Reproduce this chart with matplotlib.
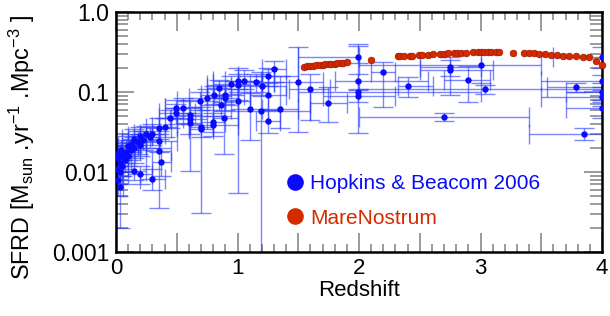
import matplotlib
matplotlib.use("Agg")
import matplotlib.pyplot as plt
import numpy as np
from matplotlib.ticker import MultipleLocator, FixedLocator, FuncFormatter, LogLocator, NullFormatter
from matplotlib.lines import Line2D

plt.rcParams['font.family'] = ['Liberation Sans', 'DejaVu Sans']
plt.rcParams['mathtext.fontset'] = 'custom'
plt.rcParams['mathtext.rm'] = 'Liberation Sans'
plt.rcParams['mathtext.it'] = 'Liberation Sans:italic'
plt.rcParams['mathtext.default'] = 'regular'

# ---- Hopkins & Beacom 2006 compilation (z, SFRD, z range, SFRD range) ----
hb_z = [4.00, 4.00, 4.00, 4.00, 4.00, 3.85, 3.79, 3.04, 3.00, 2.90, 2.75, 2.75, 2.70, 2.40, 2.20,
        1.99, 1.99, 1.99, 1.99, 1.745, 1.60, 1.50, 1.35, 1.30, 1.25, 1.25, 1.25, 1.20, 1.195, 1.15,
        1.10, 1.05, 1.00, 1.00, 1.00, 0.945, 0.90, 0.90, 0.89, 0.866, 0.845, 0.81, 0.795, 0.795, 0.75,
        0.70, 0.70, 0.69, 0.61, 0.61, 0.61, 0.55, 0.495, 0.495, 0.445, 0.40, 0.35, 0.35, 0.35, 0.37,
        0.30, 0.20, 0.15,
        0.30, 0.28, 0.25, 0.22, 0.20, 0.20, 0.18, 0.15, 0.15, 0.13, 0.12, 0.10, 0.10, 0.08, 0.07,
        0.05, 0.05, 0.04, 0.03, 0.03, 0.02, 0.02, 0.01, 0.01, 0.03]
hb_sfrd = [0.270, 0.138, 0.100, 0.087, 0.064, 0.030, 0.115, 0.109, 0.218, 0.143, 0.207, 0.188, 0.049, 0.120, 0.180,
           0.270, 0.138, 0.100, 0.089, 0.072, 0.109, 0.132, 0.062, 0.192, 0.160, 0.093, 0.044, 0.119, 0.058, 0.132,
           0.061, 0.138, 0.138, 0.122, 0.078, 0.126, 0.092, 0.085, 0.048, 0.069, 0.111, 0.092, 0.042, 0.039, 0.083,
           0.037, 0.034, 0.078, 0.052, 0.046, 0.041, 0.064, 0.064, 0.055, 0.047, 0.036, 0.035, 0.0245, 0.0185, 0.0135,
           0.0082, 0.0094, 0.0104,
           0.030, 0.027, 0.030, 0.025, 0.028, 0.022, 0.024, 0.026, 0.020, 0.023, 0.019, 0.021, 0.016, 0.018, 0.014,
           0.016, 0.012, 0.019, 0.013, 0.010, 0.015, 0.008, 0.011, 0.017, 0.0065]
hb_z_lo = [3.60, 3.50, 3.70, 3.50, 3.70, 3.40, 3.55, 2.00, 2.00, 2.70, 2.50, 2.50, 2.00, 2.32, 2.10,
           1.50, 1.80, 1.50, 1.70, 1.60, 1.42, 1.30, 1.20, 1.20, 1.00, 1.10, 1.15, 1.00, 0.80, 1.00,
           0.95, 0.90, 0.80, 0.75, 0.90, 0.80, 0.75, 0.80, 0.80, 0.70, 0.75, 0.70, 0.70, 0.60, 0.60,
           0.60, 0.60, 0.50, 0.50, 0.45, 0.50, 0.40, 0.40, 0.35, 0.35, 0.30, 0.25, 0.20, 0.25, 0.30,
           0.20, 0.10, 0.05,
           0.20, 0.20, 0.15, 0.10, 0.10, 0.15, 0.10, 0.05, 0.10, 0.05, 0.05, 0.02, 0.05, 0.00, 0.02,
           0.00, 0.00, 0.00, 0.00, 0.00, 0.00, 0.00, 0.00, 0.00, 0.00]
hb_z_hi = [4.40, 4.50, 4.30, 4.50, 4.30, 4.30, 4.00, 4.00, 3.50, 3.08, 3.00, 3.10, 3.40, 2.61, 2.30,
           2.00, 2.57, 3.00, 2.30, 1.90, 1.76, 1.70, 1.50, 1.40, 1.50, 1.40, 1.35, 1.40, 1.60, 1.30,
           1.25, 1.20, 1.20, 1.25, 1.10, 1.10, 1.05, 1.00, 1.00, 1.00, 0.95, 0.90, 0.90, 1.00, 0.90,
           0.80, 0.80, 0.85, 0.70, 0.75, 0.70, 0.70, 0.60, 0.65, 0.55, 0.50, 0.45, 0.50, 0.45, 0.45,
           0.40, 0.30, 0.25,
           0.40, 0.36, 0.35, 0.35, 0.30, 0.25, 0.25, 0.25, 0.20, 0.20, 0.20, 0.18, 0.15, 0.16, 0.12,
           0.10, 0.10, 0.08, 0.06, 0.06, 0.05, 0.05, 0.03, 0.03, 0.06]
hb_sfrd_lo = [0.20, 0.115, 0.075, 0.066, 0.048, 0.025, 0.099, 0.095, 0.13, 0.075, 0.16, 0.092, 0.043, 0.087, 0.065,
              0.23, 0.11, 0.031, 0.075, 0.042, 0.045, 0.032, 0.035, 0.134, 0.12, 0.06, 0.031, 0.09, 0.0008, 0.10,
              0.025, 0.11, 0.10, 0.08, 0.0054, 0.095, 0.07, 0.06, 0.0167, 0.05, 0.085, 0.07, 0.032, 0.028, 0.06,
              0.027, 0.0031, 0.06, 0.04, 0.0103, 0.03, 0.048, 0.05, 0.04, 0.035, 0.027, 0.026, 0.018, 0.0035, 0.009,
              0.006, 0.007, 0.008,
              0.022, 0.020, 0.024, 0.019, 0.020, 0.016, 0.017, 0.020, 0.015, 0.018, 0.014, 0.016, 0.012, 0.013, 0.010,
              0.011, 0.009, 0.014, 0.009, 0.007, 0.010, 0.005, 0.007, 0.012, 0.002]
hb_sfrd_hi = [0.36, 0.165, 0.13, 0.105, 0.08, 0.035, 0.130, 0.122, 0.33, 0.21, 0.27, 0.25, 0.055, 0.155, 0.24,
              0.375, 0.17, 0.40, 0.105, 0.114, 0.17, 0.37, 0.16, 0.246, 0.20, 0.13, 0.06, 0.16, 0.18, 0.17,
              0.097, 0.19, 0.20, 0.17, 0.11, 0.16, 0.12, 0.11, 0.075, 0.09, 0.14, 0.12, 0.055, 0.05, 0.11,
              0.05, 0.065, 0.10, 0.065, 0.08, 0.055, 0.085, 0.08, 0.07, 0.06, 0.048, 0.047, 0.033, 0.03, 0.02,
              0.011, 0.012, 0.013,
              0.040, 0.036, 0.038, 0.033, 0.037, 0.030, 0.033, 0.034, 0.027, 0.030, 0.025, 0.028, 0.022, 0.024, 0.019,
              0.022, 0.016, 0.025, 0.018, 0.014, 0.021, 0.012, 0.016, 0.023, 0.009]

# ---- MareNostrum simulation ----
mn_z = [1.55, 1.575, 1.60, 1.625, 1.65, 1.675, 1.70, 1.72, 1.75, 1.77, 1.80, 1.82, 1.85, 1.87, 1.90,
        2.095, 2.32, 2.34, 2.37, 2.42, 2.44, 2.49, 2.52, 2.565, 2.61, 2.67, 2.70, 2.73, 2.78, 2.81,
        2.84, 2.88, 2.94, 2.98, 3.00, 3.03, 3.06, 3.09, 3.13, 3.15, 3.27, 3.36, 3.40, 3.44, 3.48,
        3.53, 3.58, 3.63, 3.68, 3.73, 3.79, 3.84, 3.89, 3.95, 4.00]
mn_sfrd = [0.207, 0.209, 0.210, 0.213, 0.215, 0.216, 0.219, 0.221, 0.222, 0.225, 0.227, 0.228, 0.231, 0.233, 0.235,
           0.251, 0.278, 0.279, 0.281, 0.284, 0.285, 0.288, 0.290, 0.294, 0.297, 0.300, 0.302, 0.304, 0.306, 0.307,
           0.309, 0.310, 0.315, 0.316, 0.316, 0.316, 0.316, 0.316, 0.316, 0.316, 0.310, 0.310, 0.308, 0.305, 0.302,
           0.296, 0.292, 0.288, 0.285, 0.283, 0.280, 0.277, 0.272, 0.245, 0.216]

x_ticks = [0, 1, 2, 3, 4]
y_ticks = [0.001, 0.01, 0.1, 1.0]
y_ticklabels = ['0.001', '0.01', '0.1', '1.0']

fig = plt.figure(figsize=(6.1, 3.16), dpi=100)
ax = fig.add_axes([116 / 610, 64 / 316, 486 / 610, 240 / 316])

hz = np.array(hb_z); hs = np.array(hb_sfrd)
xerr = [hz - np.array(hb_z_lo), np.array(hb_z_hi) - hz]
yerr = [hs - np.array(hb_sfrd_lo), np.array(hb_sfrd_hi) - hs]

blue = '#0a0aff'
ax.errorbar(hz, hs, xerr=xerr, yerr=yerr, fmt='none', ecolor='#2a3cff', alpha=0.62,
            elinewidth=1.0, capsize=7.5, capthick=1.0, zorder=2)
ax.plot(hz, hs, 'o', color=blue, markersize=4.6, markeredgewidth=0, zorder=3)

red = '#d42a00'
ax.plot(mn_z, mn_sfrd, 'o', color=red, markeredgecolor='#a01800', markeredgewidth=0.5,
        markersize=4.8, zorder=4, clip_on=False)

ax.set_yscale('log')
ax.set_xlim(0, 4)
ax.set_ylim(0.001, 1.0)

ax.xaxis.set_major_locator(MultipleLocator(0.5))
ax.xaxis.set_minor_locator(MultipleLocator(0.1))
ax.xaxis.set_major_formatter(FuncFormatter(
    lambda v, p: ('%d' % round(v)) if any(abs(v - t) < 1e-6 for t in x_ticks) else ''))
ax.yaxis.set_major_locator(FixedLocator(y_ticks))
ax.yaxis.set_major_formatter(FuncFormatter(
    lambda v, p: y_ticklabels[int(np.argmin([abs(np.log10(v) - np.log10(t)) for t in y_ticks]))]))
ax.yaxis.set_minor_locator(LogLocator(base=10, subs=np.arange(2, 10), numticks=20))
ax.yaxis.set_minor_formatter(NullFormatter())

ax.tick_params(which='both', direction='in', top=True, right=True, color='#808080',
               labelsize=16, width=1.1)
ax.tick_params(axis='y', which='major', labelsize=16.5)
ax.tick_params(axis='x', which='major', length=13.5, pad=4)
ax.tick_params(axis='x', which='minor', length=5.5)
ax.tick_params(axis='y', which='major', length=13, pad=5)
ax.tick_params(axis='y', which='minor', length=8.5)
for s in ax.spines.values():
    s.set_linewidth(1.8)

ax.set_xlabel('Redshift', fontsize=16, labelpad=1)
ax.set_ylabel(r'SFRD [M$_{sun}$ .yr$^{-1}$ .Mpc$^{-3}$ ]', fontsize=16.8, labelpad=6)
ax.yaxis.set_label_coords(-0.162, 0.435)

handles = [Line2D([], [], marker='o', ls='none', color=blue, markersize=12, markeredgewidth=0),
           Line2D([], [], marker='o', ls='none', color=red, markersize=12, markeredgewidth=0)]
leg = ax.legend(handles, ['Hopkins & Beacom 2006', 'MareNostrum'], loc='upper left',
                bbox_to_anchor=(0.325, 0.325), frameon=False, fontsize=15,
                handletextpad=-0.25, labelspacing=0.75, borderpad=0, borderaxespad=0,
                labelcolor=[blue, red])

fig.savefig('out.png', dpi=100)
